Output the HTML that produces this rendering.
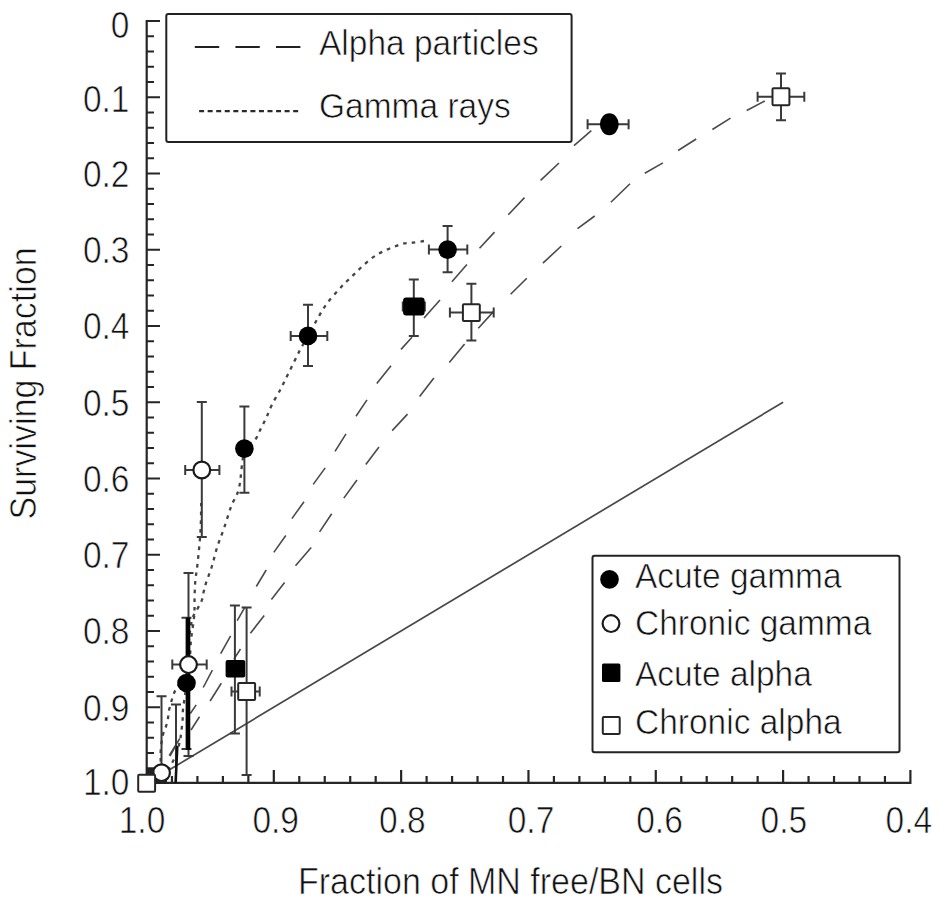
<!DOCTYPE html><html><head><meta charset="utf-8"><style>html,body{margin:0;padding:0;background:#fff;}svg{display:block;}text{font-family:"Liberation Sans",sans-serif;fill:#111;stroke:#fff;stroke-width:0.6px;}</style></head><body>
<svg width="945" height="911" viewBox="0 0 945 911">
<rect width="945" height="911" fill="#fff"/>
<g stroke="#262626" stroke-width="2.2" fill="none" stroke-linecap="butt">
<path d="M146.7,20 V782.9 H910.4 V770.1"/>
<path d="M146.7,21.00H160.00M146.7,36.25H154.00M146.7,51.50H154.00M146.7,66.75H154.00M146.7,82.00H154.00M146.7,97.25H160.00M146.7,112.50H154.00M146.7,127.75H154.00M146.7,143.00H154.00M146.7,158.25H154.00M146.7,173.50H160.00M146.7,188.75H154.00M146.7,204.00H154.00M146.7,219.25H154.00M146.7,234.50H154.00M146.7,249.75H160.00M146.7,265.00H154.00M146.7,280.25H154.00M146.7,295.50H154.00M146.7,310.75H154.00M146.7,326.00H160.00M146.7,341.25H154.00M146.7,356.50H154.00M146.7,371.75H154.00M146.7,387.00H154.00M146.7,402.25H160.00M146.7,417.50H154.00M146.7,432.75H154.00M146.7,448.00H154.00M146.7,463.25H154.00M146.7,478.50H160.00M146.7,493.75H154.00M146.7,509.00H154.00M146.7,524.25H154.00M146.7,539.50H154.00M146.7,554.75H160.00M146.7,570.00H154.00M146.7,585.25H154.00M146.7,600.50H154.00M146.7,615.75H154.00M146.7,631.00H160.00M146.7,646.25H154.00M146.7,661.50H154.00M146.7,676.75H154.00M146.7,692.00H154.00M146.7,707.25H160.00M146.7,722.50H154.00M146.7,737.75H154.00M146.7,753.00H154.00M146.7,768.25H154.00M171.96,782.9V776.10M197.43,782.9V776.10M222.89,782.9V776.10M248.36,782.9V776.10M273.82,782.9V770.10M299.28,782.9V776.10M324.75,782.9V776.10M350.21,782.9V776.10M375.68,782.9V776.10M401.14,782.9V770.10M426.60,782.9V776.10M452.07,782.9V776.10M477.53,782.9V776.10M503.00,782.9V776.10M528.46,782.9V770.10M553.92,782.9V776.10M579.39,782.9V776.10M604.85,782.9V776.10M630.32,782.9V776.10M655.78,782.9V770.10M681.24,782.9V776.10M706.71,782.9V776.10M732.17,782.9V776.10M757.64,782.9V776.10M783.10,782.9V770.10M808.56,782.9V776.10M834.03,782.9V776.10M859.49,782.9V776.10M884.96,782.9V776.10"/>
</g>
<text transform="translate(129.5,37.9) scale(1,1.130)" font-size="33.50" text-anchor="end">0</text>
<text transform="translate(129.5,112.0) scale(1,1.130)" font-size="33.50" text-anchor="end">0.1</text>
<text transform="translate(129.5,186.7) scale(1,1.130)" font-size="33.50" text-anchor="end">0.2</text>
<text transform="translate(129.5,263.0) scale(1,1.130)" font-size="33.50" text-anchor="end">0.3</text>
<text transform="translate(129.5,339.2) scale(1,1.130)" font-size="33.50" text-anchor="end">0.4</text>
<text transform="translate(129.5,415.5) scale(1,1.130)" font-size="33.50" text-anchor="end">0.5</text>
<text transform="translate(129.5,491.7) scale(1,1.130)" font-size="33.50" text-anchor="end">0.6</text>
<text transform="translate(129.5,568.0) scale(1,1.130)" font-size="33.50" text-anchor="end">0.7</text>
<text transform="translate(129.5,644.2) scale(1,1.130)" font-size="33.50" text-anchor="end">0.8</text>
<text transform="translate(129.5,720.5) scale(1,1.130)" font-size="33.50" text-anchor="end">0.9</text>
<text transform="translate(129.5,794.9) scale(1,1.130)" font-size="33.50" text-anchor="end">1.0</text>
<text transform="translate(142.0,832.8) scale(1,1.130)" font-size="33.50" text-anchor="middle">1.0</text>
<text transform="translate(275.7,832.8) scale(1,1.130)" font-size="33.50" text-anchor="middle">0.9</text>
<text transform="translate(402.4,832.8) scale(1,1.130)" font-size="33.50" text-anchor="middle">0.8</text>
<text transform="translate(531.0,832.8) scale(1,1.130)" font-size="33.50" text-anchor="middle">0.7</text>
<text transform="translate(659.5,832.8) scale(1,1.130)" font-size="33.50" text-anchor="middle">0.6</text>
<text transform="translate(783.9,832.8) scale(1,1.130)" font-size="33.50" text-anchor="middle">0.5</text>
<text transform="translate(908.9,832.8) scale(1,1.130)" font-size="33.50" text-anchor="middle">0.4</text>
<text transform="translate(510.5,893.5) scale(1,1.075)" font-size="34.00" text-anchor="middle">Fraction of MN free/BN cells</text>
<text transform="translate(36.2,383.5) rotate(-90) scale(1,1.1)" font-size="34" text-anchor="middle" fill="#2a2a2a">Surviving Fraction</text>
<rect x="166.3" y="14" width="405.3" height="128" rx="2" fill="#fff" stroke="#222" stroke-width="2"/>
<path d="M194.8,47H300.6" stroke="#222" stroke-width="2.2" stroke-dasharray="24.4,16.2" fill="none"/>
<path d="M199.1,111.1H301" stroke="#2a2a2a" stroke-width="2.2" stroke-dasharray="5,3.55" fill="none"/>
<text transform="translate(319.0,54.8) scale(1,1.075)" font-size="33.50" text-anchor="start">Alpha particles</text>
<text transform="translate(319.0,118.0) scale(1,1.075)" font-size="33.50" text-anchor="start">Gamma rays</text>
<path d="M146.5,783.5L783.1,402.2" stroke="#484848" stroke-width="1.7" fill="none"/>
<path d="M591.3,130.7L574.0,145.7M559.0,163.0L540.6,180.3M524.5,197.6L508.3,214.8M494.5,232.1L479.5,248.2M466.9,264.4L451.9,281.7M440.0,300.0L424.0,318.0M412.0,337.3L401.0,349.4M391.0,365.8L376.8,383.4M367.0,399.9L356.0,416.3M346.0,433.9L335.0,451.4M325.2,467.9L313.2,484.4M304.0,501.7L291.9,518.6M285.8,535.5L273.8,552.4M266.2,570.0L256.3,586.5M245.1,606.9L237.2,620.7M230.6,635.9L220.7,653.7M212.4,670.1L203.2,687.5M196.2,704.9L190.3,713.5M179.8,738.5L169.2,755.7M764.8,101.0L746.7,110.5M730.5,118.1L712.4,129.5M696.2,139.0L678.1,150.5M662.9,162.9L644.8,173.3M630.0,183.7L610.9,202.2M594.7,216.0L577.5,228.7M561.3,246.0L542.9,263.2M526.8,278.2L510.6,294.3M493.7,311.4L478.3,328.3M464.6,343.9L449.3,362.6M433.9,377.9L419.6,396.6M407.5,414.1L392.2,430.6M379.0,447.0L365.8,464.6M357.0,480.0L343.8,498.1M331.7,513.8L319.6,531.9M311.2,547.6L295.5,565.7M284.6,582.6L271.4,599.4M264.2,615.5L250.4,633.3M240.5,649.0L234.0,659.0M221.3,683.2L210.1,701.0M199.5,716.8L191.0,730.0M176.0,745.0L170.0,756.0" stroke="#4a4a4a" stroke-width="1.6" fill="none" stroke-linecap="butt"/>
<path d="M424.0,241.0 C422.2,241.3 416.3,242.2 413.0,242.6 C409.7,243.0 406.9,242.8 404.0,243.4 C401.1,244.0 398.4,245.2 395.6,246.2 C392.8,247.2 389.9,248.3 387.1,249.6 C384.3,250.9 381.4,252.2 378.6,253.8 C375.8,255.4 373.0,257.2 370.2,259.4 C367.4,261.6 364.3,264.4 361.7,266.8 C359.1,269.2 357.1,271.4 354.8,273.6 C352.5,275.9 350.1,278.1 347.9,280.3 C345.7,282.5 345.1,282.7 341.6,286.6 C338.1,290.5 330.9,298.1 326.7,303.8 C322.5,309.5 319.3,315.6 316.2,321.0 C313.1,326.4 310.4,331.7 308.0,336.0 C305.6,340.3 303.5,343.5 301.7,346.8 C299.9,350.1 299.6,350.7 297.0,356.0 C294.4,361.3 288.7,372.9 285.9,378.5 C283.1,384.1 282.6,385.3 280.3,389.7 C278.0,394.1 274.2,400.0 271.9,404.7 C269.6,409.4 268.2,413.7 266.3,417.7 C264.4,421.7 262.6,425.2 260.7,428.9 C258.8,432.6 257.7,436.4 255.0,440.1 C252.3,443.8 247.1,443.0 244.4,451.0 C241.7,459.0 241.2,478.8 239.0,488.0 C236.8,497.2 233.8,499.4 231.3,506.0 C228.9,512.6 226.6,520.6 224.3,527.4 C222.0,534.2 219.4,540.3 217.3,546.7 C215.2,553.1 213.9,559.9 212.0,566.0 C210.1,572.1 207.3,579.0 205.9,583.3 C204.5,587.6 204.4,588.8 203.7,591.6 C203.0,594.4 202.9,597.1 201.9,600.0 C200.9,602.9 199.2,605.5 197.5,608.8 C195.8,612.1 193.5,614.0 192.0,620.0 C190.5,626.0 189.4,634.5 188.5,645.0 C187.6,655.5 187.3,672.5 186.4,683.2 C185.5,694.0 183.6,703.4 183.0,709.5 C182.4,715.6 182.9,716.0 182.6,720.0 C182.3,724.0 181.6,729.7 181.1,733.3 C180.6,736.9 180.8,737.8 179.8,741.8 C178.8,745.8 177.0,752.3 175.0,757.0 C173.0,761.7 169.2,767.8 168.0,770.0" stroke="#444" stroke-width="2.3" stroke-dasharray="3.6,5.1" fill="none"/>
<path d="M201.2,503.0 C201.1,507.7 201.1,520.8 200.5,531.0 C199.9,541.2 198.4,555.7 197.5,564.0 C196.6,572.3 195.8,575.4 195.3,581.0 C194.8,586.6 194.8,592.0 194.6,597.8 C194.4,603.6 194.8,608.8 194.2,615.8 C193.6,622.8 191.9,631.9 191.0,640.0 C190.1,648.1 190.7,656.9 188.5,664.6 C186.3,672.3 180.4,681.1 178.0,686.0 C175.6,690.9 175.3,689.8 173.8,693.7 C172.3,697.6 170.2,705.3 169.2,709.5 C168.2,713.7 168.4,715.9 167.9,718.8 C167.4,721.7 166.8,723.9 165.9,726.7 C165.0,729.5 163.6,731.3 162.7,735.7 C161.8,740.1 160.8,746.7 160.6,752.9 C160.4,759.1 161.2,769.5 161.3,772.8" stroke="#444" stroke-width="2.3" stroke-dasharray="3.6,5.1" fill="none"/>
<path d="M587.6,124.3H609.3M587.6,119.3V129.3M609.3,124.3H628.6M628.6,119.3V129.3" stroke="#3a3a3a" stroke-width="2" fill="none"/>
<path d="M447.6,226.1V249.6M442.6,226.1H452.6M447.6,249.6V272.2M442.6,272.2H452.6M428.9,249.6H447.6M428.9,244.6V254.6M447.6,249.6H467.3M467.3,244.6V254.6" stroke="#3a3a3a" stroke-width="2" fill="none"/>
<path d="M308.0,304.8V335.9M303.0,304.8H313.0M308.0,335.9V366.0M303.0,366.0H313.0M290.7,335.9H308.0M290.7,330.9V340.9M308.0,335.9H327.3M327.3,330.9V340.9" stroke="#3a3a3a" stroke-width="2" fill="none"/>
<path d="M244.4,406.5V448.6M239.4,406.5H249.4M244.4,448.6V492.8M239.4,492.8H249.4" stroke="#3a3a3a" stroke-width="2" fill="none"/>
<path d="M186.5,617.8V683.0M181.5,617.8H191.5M186.5,683.0V749.0M181.5,749.0H191.5" stroke="#3a3a3a" stroke-width="2" fill="none"/>
<path d="M176.0,704.5V776.0M171.0,704.5H181.0" stroke="#3a3a3a" stroke-width="2" fill="none"/>
<path d="M201.8,402.1V470.0M196.8,402.1H206.8M201.8,470.0V537.1M196.8,537.1H206.8M185.2,470.0H201.8M185.2,465.0V475.0M201.8,470.0H219.4M219.4,465.0V475.0" stroke="#3a3a3a" stroke-width="2" fill="none"/>
<path d="M188.5,573.1V664.6M183.5,573.1H193.5M188.5,664.6V756.0M183.5,756.0H193.5M172.3,664.6H188.5M172.3,659.6V669.6M188.5,664.6H206.7M206.7,659.6V669.6" stroke="#3a3a3a" stroke-width="2" fill="none"/>
<path d="M161.5,696.2V772.7M156.5,696.2H166.5" stroke="#3a3a3a" stroke-width="2" fill="none"/>
<path d="M413.8,279.5V306.5M408.8,279.5H418.8M413.8,306.5V336.0M408.8,336.0H418.8M402.8,306.5H413.8M402.8,301.5V311.5M413.8,306.5H424.8M424.8,301.5V311.5" stroke="#3a3a3a" stroke-width="2" fill="none"/>
<path d="M234.9,605.4V668.7M229.9,605.4H239.9M234.9,668.7V733.6M229.9,733.6H239.9" stroke="#3a3a3a" stroke-width="2" fill="none"/>
<path d="M781.0,73.6V96.8M776.0,73.6H786.0M781.0,96.8V120.3M776.0,120.3H786.0M757.6,96.8H781.0M757.6,91.8V101.8M781.0,96.8H804.3M804.3,91.8V101.8" stroke="#3a3a3a" stroke-width="2" fill="none"/>
<path d="M471.4,283.8V312.6M466.4,283.8H476.4M471.4,312.6V340.6M466.4,340.6H476.4M449.9,312.6H471.4M449.9,307.6V317.6M471.4,312.6H493.7M493.7,307.6V317.6" stroke="#3a3a3a" stroke-width="2" fill="none"/>
<path d="M246.6,607.5V691.5M241.6,607.5H251.6M246.6,691.5V775.0M241.6,775.0H251.6M231.5,691.5H246.6M231.5,686.5V696.5M246.6,691.5H259.7M259.7,686.5V696.5" stroke="#3a3a3a" stroke-width="2" fill="none"/>
<path d="M188.2,617.6V750" stroke="#000" stroke-width="4.2" fill="none"/>
<path d="M177.3,746L175.6,783" stroke="#111" stroke-width="2.6" fill="none"/>
<ellipse cx="609.3" cy="124.3" rx="9.4" ry="11" fill="#000"/>
<circle cx="447.6" cy="249.6" r="9.3" fill="#000"/>
<circle cx="308.0" cy="335.9" r="9.3" fill="#000"/>
<circle cx="244.4" cy="448.6" r="9.3" fill="#000"/>
<circle cx="186.5" cy="683.0" r="9.3" fill="#000"/>
<circle cx="201.8" cy="470.0" r="8.4" fill="#fff" stroke="#1a1a1a" stroke-width="2.2"/>
<circle cx="188.5" cy="664.6" r="8.4" fill="#fff" stroke="#1a1a1a" stroke-width="2.2"/>
<circle cx="161.5" cy="772.7" r="8.4" fill="#fff" stroke="#1a1a1a" stroke-width="2.2"/>
<rect x="403.1" y="297.5" width="21.5" height="18" rx="3" fill="#000"/>
<rect x="225.6" y="660" width="19.6" height="17.6" rx="2" fill="#000"/>
<rect x="772.5" y="88.3" width="16.9" height="16.9" rx="1" fill="#fff" stroke="#262626" stroke-width="2.0"/>
<rect x="462.9" y="304.2" width="16.9" height="16.9" rx="1" fill="#fff" stroke="#262626" stroke-width="2.0"/>
<rect x="238.2" y="683.0" width="16.9" height="16.9" rx="1" fill="#fff" stroke="#262626" stroke-width="2.0"/>
<path d="M146,768H153.5L155,775H146Z M155,780H167V784H155Z" fill="#222"/>
<rect x="138.2" y="774.8" width="16.9" height="16.9" rx="1" fill="#fff" stroke="#262626" stroke-width="2.0"/>
<rect x="592.5" y="555.8" width="307" height="196.5" rx="2" fill="#fff" stroke="#222" stroke-width="2"/>
<circle cx="609.5" cy="579.4" r="9.3" fill="#000"/>
<circle cx="611.0" cy="623.6" r="8.4" fill="#fff" stroke="#1a1a1a" stroke-width="2.2"/>
<rect x="602.0" y="663.5" width="18.4" height="18.4" rx="1.5" fill="#000"/>
<rect x="602.8" y="717.1" width="16.9" height="16.9" rx="1" fill="#fff" stroke="#262626" stroke-width="2.0"/>
<text transform="translate(635.0,588.3) scale(1,1.075)" font-size="33.50" text-anchor="start">Acute gamma</text>
<text transform="translate(635.0,634.8) scale(1,1.075)" font-size="33.50" text-anchor="start">Chronic gamma</text>
<text transform="translate(635.0,686.2) scale(1,1.075)" font-size="33.50" text-anchor="start">Acute alpha</text>
<text transform="translate(635.0,734.4) scale(1,1.075)" font-size="33.50" text-anchor="start">Chronic alpha</text>
</svg></body></html>
